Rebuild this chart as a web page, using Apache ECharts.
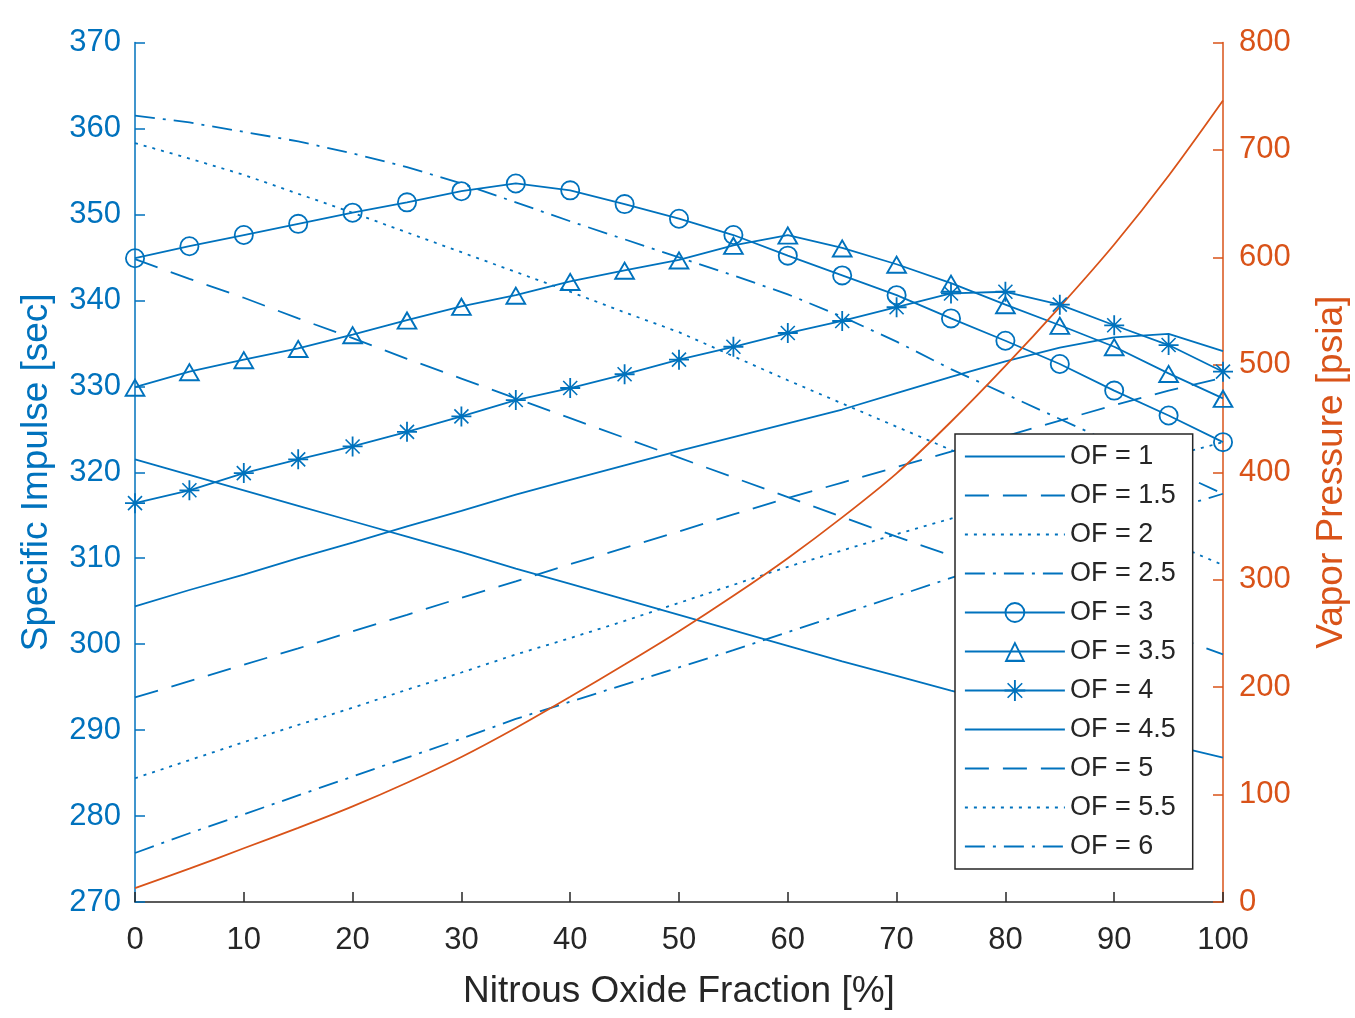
<!DOCTYPE html>
<html>
<head>
<meta charset="utf-8">
<title>Specific Impulse vs Nitrous Oxide Fraction</title>
<script src="https://cdn.jsdelivr.net/npm/echarts@6/dist/echarts.min.js"></script>
<style>
    html, body { margin: 0; padding: 0; background: #fff; }
    #chart { width: 1355px; height: 1018px; }
</style>
</head>
<body>
<div id="chart"></div>
<script>
// N2O fraction [%]
var fraction = [0, 5, 10, 15, 20, 25, 30, 35, 40, 45, 50, 55, 60, 65, 70, 75, 80, 85, 90, 95, 100];

// Isp [sec] for each OF ratio
var of1  = [321.5, 319.7, 317.9, 316.1, 314.3, 312.5, 310.7, 308.8, 307.0, 305.2, 303.4, 301.6, 299.8, 298.0, 296.3, 294.6, 293.0, 291.4, 289.8, 288.3, 286.8];
var of15 = [344.8, 342.5, 340.3, 337.9, 335.6, 333.2, 330.9, 328.6, 326.3, 324.0, 321.7, 319.4, 317.1, 314.8, 312.5, 310.3, 308.0, 305.7, 303.4, 301.1, 298.8];
var of2  = [358.3, 356.5, 354.6, 352.4, 350.2, 347.9, 345.6, 343.3, 341.0, 338.6, 336.3, 333.5, 330.7, 328.0, 325.3, 322.6, 319.9, 317.2, 314.5, 311.9, 309.2];
var of25 = [361.5, 360.7, 359.6, 358.5, 357.1, 355.5, 353.6, 351.4, 349.2, 347.1, 345.0, 342.9, 340.7, 338.1, 335.2, 332.0, 329.1, 326.2, 323.3, 320.4, 317.5];
var of3  = [344.9, 346.3, 347.6, 348.9, 350.2, 351.4, 352.7, 353.6, 352.8, 351.2, 349.5, 347.6, 345.2, 342.9, 340.6, 337.9, 335.3, 332.6, 329.5, 326.6, 323.5];
var of35 = [329.9, 331.7, 333.1, 334.4, 336.0, 337.7, 339.3, 340.6, 342.2, 343.5, 344.7, 346.4, 347.6, 346.1, 344.2, 342.0, 339.5, 337.1, 334.6, 331.5, 328.6];
var of4  = [316.4, 317.9, 319.9, 321.5, 323.0, 324.7, 326.5, 328.4, 329.8, 331.4, 333.1, 334.6, 336.2, 337.6, 339.2, 340.8, 341.0, 339.5, 337.1, 334.8, 331.7];
var of45 = [304.4, 306.3, 308.1, 310.0, 311.8, 313.7, 315.5, 317.4, 319.1, 320.8, 322.5, 324.1, 325.7, 327.3, 329.2, 331.1, 332.9, 334.5, 335.7, 336.1, 334.1];
var of5  = [293.8, 295.7, 297.6, 299.5, 301.5, 303.4, 305.4, 307.3, 309.3, 311.2, 313.1, 315.1, 317.0, 318.8, 320.6, 322.4, 324.2, 326.0, 327.8, 329.5, 331.0];
var of55 = [284.4, 286.5, 288.6, 290.6, 292.6, 294.7, 296.7, 298.8, 300.7, 302.7, 304.8, 306.9, 309.0, 310.9, 312.8, 314.6, 316.4, 318.2, 320.0, 321.8, 323.5];
var of6  = [275.7, 278.0, 280.2, 282.4, 284.6, 286.8, 289.0, 291.3, 293.3, 295.3, 297.3, 299.3, 301.4, 303.5, 305.6, 307.7, 309.7, 311.7, 313.7, 315.6, 317.5];

// vapor pressure [psia], right axis
var vapor = [13, 31, 50, 69, 89, 111, 135, 162, 191, 221, 252, 285, 320, 358, 399, 447, 499, 554, 612, 676, 746];

var ofNames = ['OF = 1', 'OF = 1.5', 'OF = 2', 'OF = 2.5', 'OF = 3', 'OF = 3.5', 'OF = 4', 'OF = 4.5', 'OF = 5', 'OF = 5.5', 'OF = 6'];
var ofData = [of1, of15, of2, of25, of3, of35, of4, of45, of5, of55, of6];

var blue = '#0072BD';
var orange = '#D95319';
var dark = '#262626';
var font = '"Liberation Sans", Arial, Helvetica, sans-serif';

// matlab-ish line styles
var dash = {
    solid: 'solid',
    dashed: [24, 14],
    dotted: [3, 6],
    dashdot: [20, 8, 3, 8]
};
var lineTypes = ['solid', 'dashed', 'dotted', 'dashdot', 'solid', 'solid', 'solid', 'solid', 'dashed', 'dotted', 'dashdot'];

// hollow markers as ring paths so the line shows through them
var ring = 'path://M-10,0A10,10,0,1,0,10,0A10,10,0,1,0,-10,0Z M-8.2,0A8.2,8.2,0,1,1,8.2,0A8.2,8.2,0,1,1,-8.2,0Z';
var tri = 'path://M0,-9L10.4,9L-10.4,9Z M0,-5.4L-7.28,7.2L7.28,7.2Z';
var star = 'path://M-0.9,-10L0.9,-10L0.9,10L-0.9,10Z M-10,-0.9L10,-0.9L10,0.9L-10,0.9Z ' +
    'M-6.43,-7.57L7.57,6.43L6.43,7.57L-7.57,-6.43Z M-7.57,6.43L6.43,-7.57L7.57,-6.43L-6.43,7.57Z';
var markers = ['none', 'none', 'none', 'none', ring, tri, star, 'none', 'none', 'none', 'none'];
var markerSizes = [0, 0, 0, 0, [20, 20], [22, 19], [20, 20], 0, 0, 0, 0];

var seriesData = [];
var legendData = [];
ofNames.forEach(function (name, i) {
    seriesData.push({
        name: name,
        type: 'line',
        yAxisIndex: 0,
        data: fraction.map(function (x, k) { return [x, ofData[i][k]]; }),
        symbol: markers[i],
        symbolSize: markerSizes[i] || 1,
        showSymbol: markers[i] !== 'none',
        itemStyle: { color: blue, borderWidth: 0 },
        lineStyle: { color: blue, width: 1.8, type: dash[lineTypes[i]] },
        emphasis: { disabled: true }
    });
    legendData.push({
        name: name,
        lineStyle: { type: dash[lineTypes[i]], width: 1.8, color: blue },
        itemStyle: markers[i] === 'none' ? { opacity: 0 } : { color: blue }
    });
});

seriesData.push({
    name: 'Vapor Pressure',
    type: 'line',
    yAxisIndex: 1,
    data: fraction.map(function (x, k) { return [x, vapor[k]]; }),
    symbol: 'none',
    smooth: 0.3,
    lineStyle: { color: orange, width: 1.8 },
    itemStyle: { color: orange },
    emphasis: { disabled: true }
});

var option = {
    animation: false,
    backgroundColor: '#fff',
    textStyle: { fontFamily: font },
    grid: {
        left: 135,
        right: 132,
        top: 42.5,
        bottom: 116,
        outerBoundsMode: 'none'
    },
    legend: {
        data: legendData,
        orient: 'vertical',
        left: 955,
        top: 434,
        itemWidth: 100,
        itemHeight: 26,
        itemGap: 12,
        padding: [9, 17, 9, 9],
        borderColor: dark,
        borderWidth: 1.5,
        backgroundColor: '#fff',
        selectedMode: false,
        textStyle: { fontSize: 27, color: dark, fontFamily: font }
    },
    xAxis: {
        type: 'value',
        min: 0,
        max: 100,
        interval: 10,
        name: 'Nitrous Oxide Fraction [%]',
        nameLocation: 'middle',
        nameGap: 71,
        nameTextStyle: { fontSize: 37, color: dark, fontFamily: font },
        axisLine: { lineStyle: { color: dark, width: 1.5 } },
        axisTick: { inside: true, length: 10, lineStyle: { color: dark, width: 1.5 } },
        axisLabel: { fontSize: 31, color: dark, margin: 23, fontFamily: font },
        splitLine: { show: false }
    },
    yAxis: [
        {
            type: 'value',
            position: 'left',
            min: 270,
            max: 370,
            interval: 10,
            name: 'Specific Impulse [sec]',
            nameLocation: 'middle',
            nameRotate: 90,
            nameGap: 80,
            nameTextStyle: { fontSize: 37, color: blue, fontFamily: font },
            axisLine: { show: true, lineStyle: { color: blue, width: 1.5 } },
            axisTick: { show: true, inside: true, length: 10, lineStyle: { color: blue, width: 1.5 } },
            axisLabel: { fontSize: 31, color: blue, margin: 14, fontFamily: font },
            splitLine: { show: false }
        },
        {
            type: 'value',
            position: 'right',
            min: 0,
            max: 800,
            interval: 100,
            name: 'Vapor Pressure [psia]',
            nameLocation: 'middle',
            nameRotate: 90,
            nameGap: 90,
            nameTextStyle: { fontSize: 37, color: orange, fontFamily: font },
            axisLine: { show: true, lineStyle: { color: orange, width: 1.5 } },
            axisTick: { show: true, inside: true, length: 10, lineStyle: { color: orange, width: 1.5 } },
            axisLabel: { fontSize: 31, color: orange, margin: 16, fontFamily: font },
            splitLine: { show: false }
        }
    ],
    series: seriesData
};

var chart = echarts.init(document.getElementById('chart'));
chart.setOption(option);
</script>
</body>
</html>
